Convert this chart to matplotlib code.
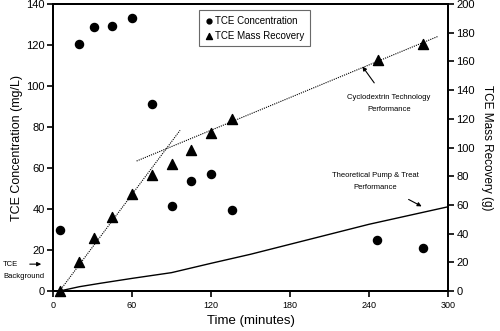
import matplotlib
matplotlib.use('Agg')
import matplotlib.pyplot as plt
import numpy as np

plt.rcParams['font.family'] = ['Liberation Sans', 'DejaVu Sans']

# --- DATA ---
conc_time = [5, 20, 31, 45, 60, 75, 90, 105, 120, 136, 246, 281]
conc_mgL = [29.6, 120.6, 128.6, 129.4, 133.3, 91.4, 41.6, 53.7, 56.9, 39.4, 25.0, 21.0]

mass_time = [5, 20, 31, 45, 60, 75, 90, 105, 120, 136, 247, 281]
mass_g = [0, 20.4, 36.7, 51.3, 67.8, 80.8, 88.3, 98.5, 110.3, 119.6, 161.2, 172.3]

# early (steep) and late (shallow) trend lines on the recovery axis
early_t = [5, 96.5]
early_g = [0, 112]
late_t = [63.5, 292.5]
late_g = [90.6, 177.5]

# theoretical pump & treat recovery curve
pt_time = [5, 20, 36, 60, 90, 120, 150, 240, 300]
pt_g = [0, 3.0, 5.4, 8.8, 12.8, 19.3, 25.6, 46.5, 58.7]

x_ticks = [0, 60, 120, 180, 240, 300]
y_ticks = [0, 20, 40, 60, 80, 100, 120, 140]
y2_ticks = [0, 20, 40, 60, 80, 100, 120, 140, 160, 180, 200]

# --- FIGURE ---
fig = plt.figure(figsize=(5, 3.31), dpi=100)
ax = fig.add_axes([0.106, 0.1208, 0.79, 0.867])
ax2 = ax.twinx()

ax.set_xlim(0, 300); ax.set_ylim(0, 140)
ax2.set_ylim(0, 200)

ax.scatter(conc_time, conc_mgL, s=34, c='black', marker='o', zorder=3,
           clip_on=False, label='TCE Concentration')
ax2.scatter(mass_time, mass_g, s=52, c='black', marker='^', zorder=3,
            clip_on=False, label='TCE Mass Recovery')

ax2.plot(early_t, early_g, color='black', lw=0.8, ls=(0, (1, 1)))
ax2.plot(late_t, late_g, color='black', lw=0.8, ls=(0, (1, 1)))
ax2.plot(pt_time, pt_g, color='black', lw=1.0)

# axes styling
for a in (ax, ax2):
    for sp in a.spines.values():
        sp.set_linewidth(1.4)
ax.set_xticks(x_ticks)
ax.set_yticks(y_ticks)
ax2.set_yticks(y2_ticks)
ax.tick_params(axis='x', direction='out', length=4, width=1.2, labelsize=6.5, pad=3)
ax.tick_params(axis='y', direction='out', length=4, width=1.2, labelsize=8, pad=2)
ax2.tick_params(axis='y', direction='out', length=4, width=1.2, labelsize=8, pad=2)

ax.set_xlabel('Time (minutes)', fontsize=9.5, labelpad=4)
ax.set_ylabel('TCE Concentration (mg/L)', fontsize=9, labelpad=2)
ax2.set_ylabel('TCE Mass Recovery (g)', fontsize=8.5, rotation=-90, labelpad=13)

# legend
h1, l1 = ax.get_legend_handles_labels()
h2, l2 = ax2.get_legend_handles_labels()
leg = ax2.legend(h1 + h2, l1 + l2, loc='upper center', bbox_to_anchor=(0.51, 0.995),
                 fontsize=7, frameon=True, fancybox=False, edgecolor='#444444',
                 markerscale=0.6, handletextpad=0.25, handlelength=0.8,
                 borderpad=0.55, labelspacing=0.55)
leg.get_frame().set_linewidth(0.8)

# annotations
ax2.annotate('Cyclodextrin Technology\n\nPerformance', xy=(235, 156.5), xytext=(255, 131),
             fontsize=5.5, ha='center', va='center', linespacing=0.8,
             arrowprops=dict(arrowstyle='-|>', color='black', lw=0.8,
                             mutation_scale=6, shrinkA=7, shrinkB=0))
ax2.annotate('Theoretical Pump & Treat\n\nPerformance', xy=(280, 59), xytext=(245, 76),
             fontsize=5.5, ha='center', va='center', linespacing=0.8,
             arrowprops=dict(arrowstyle='-|>', color='black', lw=0.8,
                             mutation_scale=6, shrinkA=8, shrinkB=0))
fig.text(0.006, 0.202, 'TCE', fontsize=5.5, va='center')
fig.text(0.006, 0.164, 'Background', fontsize=5.5, va='center')
fig.add_artist(matplotlib.patches.FancyArrowPatch(
    (0.054, 0.202), (0.088, 0.202), transform=fig.transFigure,
    arrowstyle='-|>', mutation_scale=6, lw=0.8, color='black'))

fig.savefig('out.png', dpi=100)
